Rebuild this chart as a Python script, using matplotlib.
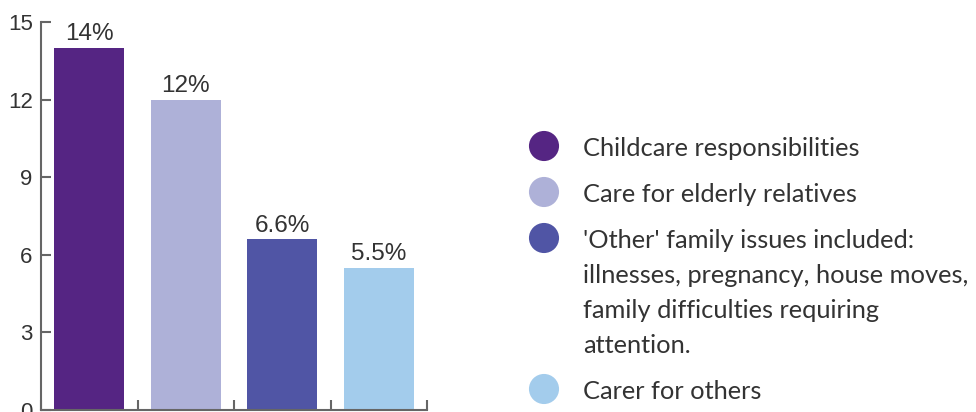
import matplotlib
matplotlib.use("Agg")
import matplotlib.pyplot as plt

# --- Data ---
categories = ["Childcare responsibilities",
              "Care for elderly relatives",
              "'Other' family issues included:\nillnesses, pregnancy, house moves,\nfamily difficulties requiring\nattention.",
              "Carer for others"]
values = [14, 12, 6.6, 5.5]
value_labels = ["14%", "12%", "6.6%", "5.5%"]
colors = ["#552583", "#AEB1D8", "#5055A5", "#A3CCEC"]
y_ticks = [0, 3, 6, 9, 12, 15]

text_col = "#333333"
axis_col = "#666666"

fig = plt.figure(figsize=(9.76, 4.12), dpi=100)
ax = fig.add_axes([41 / 976, 2 / 412, 386 / 976, 388 / 412])

x = range(len(values))
bars = ax.bar(x, values, width=0.725, color=colors)
for b, lab in zip(bars, value_labels):
    ax.annotate(lab, (b.get_x() + b.get_width() / 2, b.get_height()),
                xytext=(0, 2), textcoords="offset points",
                ha="center", va="bottom", fontsize=17.5,
                family="Liberation Sans", color=text_col)

ax.set_xlim(-0.5, len(values) - 0.5)
ax.set_ylim(0, 15)
ax.set_yticks(y_ticks)
ax.set_xticks([i - 0.5 for i in range(len(values) + 1)])
ax.set_xticklabels([])
for s in ["top", "right"]:
    ax.spines[s].set_visible(False)
for s in ["left", "bottom"]:
    ax.spines[s].set_color(axis_col)
    ax.spines[s].set_linewidth(1.5)
ax.tick_params(direction="in", length=7, width=1.5, color=axis_col,
               labelsize=16, labelcolor=text_col, pad=6)
for t in ax.get_yticklabels():
    t.set_family("Liberation Sans")

# --- Legend (manual, pixel coordinates) ---
lg = fig.add_axes([0, 0, 1, 1])
lg.set_xlim(0, 976)
lg.set_ylim(412, 0)
lg.axis("off")
lg.patch.set_alpha(0)
y = 146
line_h = 35
for lab, c in zip(categories, colors):
    lg.scatter([544], [y], s=470, color=c, edgecolors="none")
    lines = lab.split("\n")
    for k, line in enumerate(lines):
        lg.text(583, y + k * line_h + 10, line, va="baseline", ha="left",
                fontsize=18.3, family="Lato", color=text_col)
    y += line_h * len(lines) + 11

fig.savefig("out.png", dpi=100)
